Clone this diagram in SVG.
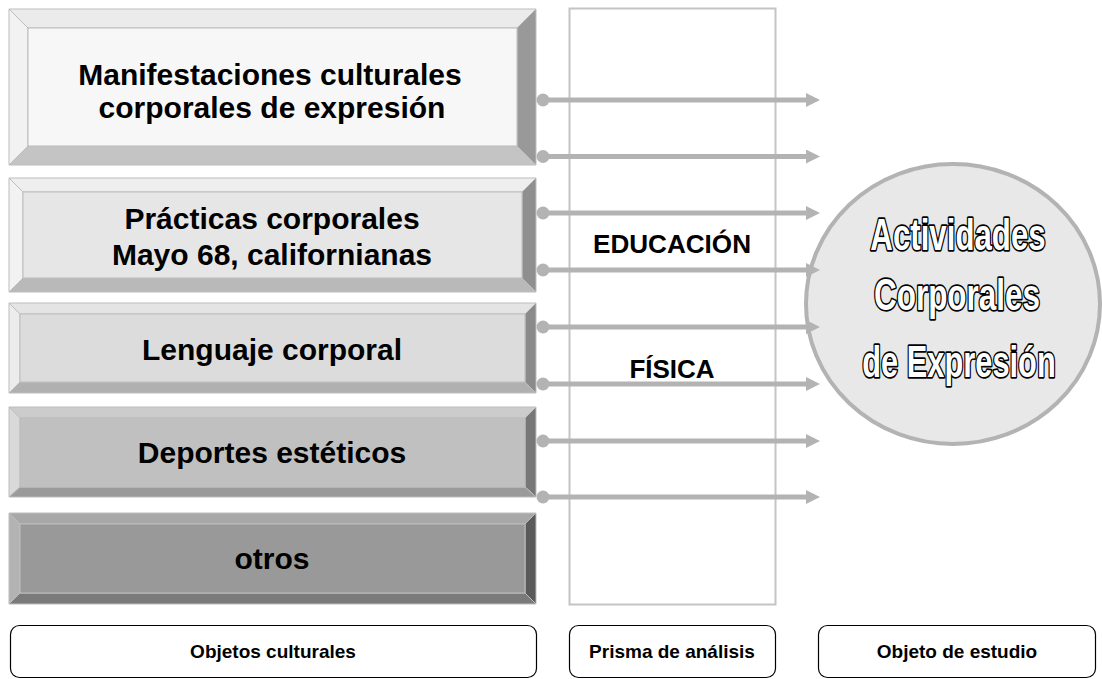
<svg xmlns="http://www.w3.org/2000/svg" width="1102" height="679" viewBox="0 0 1102 679">
<defs>
<style>
.b{font-family:"Liberation Sans",Arial,sans-serif;font-weight:bold;fill:#000;text-anchor:middle}
.big{font-size:30px}
.mid{font-size:26px}
.sm{font-size:19px}
.out{font-family:"Liberation Sans",Arial,sans-serif;font-weight:bold;font-size:44px;fill:#fff;stroke:#000;stroke-width:3.4;paint-order:stroke;stroke-linejoin:round;text-anchor:middle}
.edge{stroke:#bdbdbd;stroke-width:1}
.conn{stroke:#b3b3b3;stroke-width:5;fill:none}
.dot{fill:#b3b3b3}
.lbl{fill:#fff;stroke:#000;stroke-width:1.2}
</style>
<marker id="ah" viewBox="0 0 14 14" refX="0" refY="7" markerWidth="14" markerHeight="14" markerUnits="userSpaceOnUse" orient="auto">
<path d="M0,0 L14,7 L0,14 Z" fill="#b3b3b3"/>
</marker>
</defs>
<rect width="1102" height="679" fill="#fff"/>

<g id="prisma">
<rect x="569.5" y="8.5" width="206" height="596" fill="#fff" stroke="#c4c4c4" stroke-width="2"/>
<text class="b mid" x="672" y="253" textLength="158" lengthAdjust="spacingAndGlyphs">EDUCACIÓN</text>
<text class="b mid" x="672" y="378">FÍSICA</text>
</g>

<g id="objeto">
<ellipse cx="953" cy="304" rx="147" ry="140" fill="#e8e8e8" stroke="#b3b3b3" stroke-width="4"/>
<text class="out" transform="translate(958,250) scale(0.71,1)" x="0" y="0">Actividades</text>
<text class="out" transform="translate(957,310) scale(0.715,1)" x="0" y="0">Corporales</text>
<text class="out" transform="translate(959,377) scale(0.70,1)" x="0" y="0">de Expresión</text>
</g>

<g id="box1">
<polygon points="9,9 536,9 517,28 28,28" fill="#ebebeb" class="edge"/>
<polygon points="9,9 28,28 28,146 9,165" fill="#f2f2f2" class="edge"/>
<polygon points="536,9 536,165 517,146 517,28" fill="#999999" class="edge"/>
<polygon points="9,165 536,165 517,146 28,146" fill="#c4c4c4" class="edge"/>
<rect x="28" y="28" width="489" height="118" fill="#f7f7f7" class="edge"/>
<text class="b big" x="270" y="85">Manifestaciones culturales</text>
<text class="b big" x="272" y="118">corporales de expresión</text>
</g>

<g id="box2">
<polygon points="9,178 536,178 522,192 23,192" fill="#eeeeee" class="edge"/>
<polygon points="9,178 23,192 23,278 9,292" fill="#f2f2f2" class="edge"/>
<polygon points="536,178 536,292 522,278 522,192" fill="#8f8f8f" class="edge"/>
<polygon points="9,292 536,292 522,278 23,278" fill="#b9b9b9" class="edge"/>
<rect x="23" y="192" width="499" height="86" fill="#e6e6e6" class="edge"/>
<text class="b big" x="272" y="229">Prácticas corporales</text>
<text class="b big" x="272" y="265">Mayo 68, californianas</text>
</g>

<g id="box3">
<polygon points="9,303 536,303 525,314 20,314" fill="#e4e4e4" class="edge"/>
<polygon points="9,303 20,314 20,382 9,393" fill="#ececec" class="edge"/>
<polygon points="536,303 536,393 525,382 525,314" fill="#8a8a8a" class="edge"/>
<polygon points="9,393 536,393 525,382 20,382" fill="#b0b0b0" class="edge"/>
<rect x="20" y="314" width="505" height="68" fill="#dcdcdc" class="edge"/>
<text class="b big" x="272" y="360">Lenguaje corporal</text>
</g>

<g id="box4">
<polygon points="9,407 536,407 525,418 20,418" fill="#cccccc" class="edge"/>
<polygon points="9,407 20,418 20,487 9,497" fill="#d9d9d9" class="edge"/>
<polygon points="536,407 536,497 525,487 525,418" fill="#777777" class="edge"/>
<polygon points="9,497 536,497 525,487 20,487" fill="#9a9a9a" class="edge"/>
<rect x="20" y="418" width="505" height="69" fill="#c0c0c0" class="edge"/>
<text class="b big" x="272" y="463">Deportes estéticos</text>
</g>

<g id="box5">
<polygon points="9,513 536,513 525,524 20,524" fill="#a8a8a8" class="edge"/>
<polygon points="9,513 20,524 20,593 9,604" fill="#b3b3b3" class="edge"/>
<polygon points="536,513 536,604 525,593 525,524" fill="#5a5a5a" class="edge"/>
<polygon points="9,604 536,604 525,593 20,593" fill="#7a7a7a" class="edge"/>
<rect x="20" y="524" width="505" height="69" fill="#999999" class="edge"/>
<text class="b big" x="272" y="569">otros</text>
</g>

<g id="connectors">
<circle class="dot" cx="543" cy="100" r="6.5"/><line class="conn" x1="543" y1="100" x2="806" y2="100" marker-end="url(#ah)"/>
<circle class="dot" cx="543" cy="156.5" r="6.5"/><line class="conn" x1="543" y1="156.5" x2="806" y2="156.5" marker-end="url(#ah)"/>
<circle class="dot" cx="543" cy="213" r="6.5"/><line class="conn" x1="543" y1="213" x2="806" y2="213" marker-end="url(#ah)"/>
<circle class="dot" cx="543" cy="270" r="6.5"/><line class="conn" x1="543" y1="270" x2="806" y2="270" marker-end="url(#ah)"/>
<circle class="dot" cx="543" cy="327" r="6.5"/><line class="conn" x1="543" y1="327" x2="806" y2="327" marker-end="url(#ah)"/>
<circle class="dot" cx="543" cy="384" r="6.5"/><line class="conn" x1="543" y1="384" x2="806" y2="384" marker-end="url(#ah)"/>
<circle class="dot" cx="543" cy="441" r="6.5"/><line class="conn" x1="543" y1="441" x2="806" y2="441" marker-end="url(#ah)"/>
<circle class="dot" cx="543" cy="497" r="6.5"/><line class="conn" x1="543" y1="497" x2="806" y2="497" marker-end="url(#ah)"/>
</g>

<g id="label-objetos">
<rect class="lbl" x="10.5" y="625.5" width="526" height="52" rx="9"/>
<text class="b sm" x="273" y="658">Objetos culturales</text>
</g>
<g id="label-prisma">
<rect class="lbl" x="569.5" y="625.5" width="206" height="52" rx="9"/>
<text class="b sm" x="672" y="658">Prisma de análisis</text>
</g>
<g id="label-estudio">
<rect class="lbl" x="818.5" y="625.5" width="277" height="52" rx="9"/>
<text class="b sm" x="957" y="658">Objeto de estudio</text>
</g>
</svg>
